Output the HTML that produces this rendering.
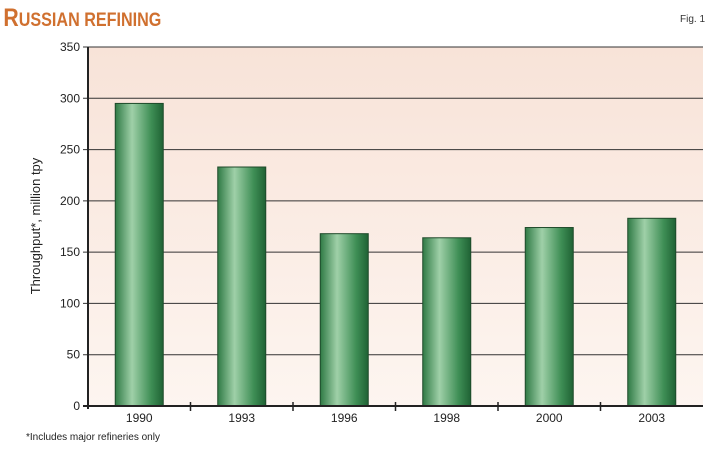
<!DOCTYPE html>
<html><head><meta charset="utf-8"><style>
body{margin:0;background:#fff;width:720px;height:445px;overflow:hidden;font-family:"Liberation Sans",sans-serif}
</style></head><body>
<svg width="720" height="445" xmlns="http://www.w3.org/2000/svg">
<defs>
<linearGradient id="bg" x1="0" y1="0" x2="0" y2="1"><stop offset="0" stop-color="#f8e3d8"/><stop offset="1" stop-color="#fdf5f0"/></linearGradient>
<linearGradient id="bar" x1="0" y1="0" x2="1" y2="0"><stop offset="0" stop-color="#2f7a45"/><stop offset="0.35" stop-color="#9fd0a8"/><stop offset="0.75" stop-color="#3e8e55"/><stop offset="1" stop-color="#1f6234"/></linearGradient>
</defs>
<text x="4" y="26" font-size="25" fill="#d0702f" font-weight="bold" style="font-family:'Liberation Sans Narrow','Liberation Sans',sans-serif" transform="scale(0.85,1)">R<tspan font-size="19">USSIAN REFINING</tspan></text>
<text x="680" y="22" font-size="10" fill="#333">Fig. 1</text>
<rect x="88" y="47" width="615" height="359" fill="url(#bg)"/>
<g id="grid"></g>
<g id="bars"></g>
<g id="axes"></g>
<text transform="translate(40,226) rotate(-90)" text-anchor="middle" font-size="13" fill="#222">Throughput*, million tpy</text>
<text x="26" y="440" font-size="10" fill="#222">*Includes major refineries only</text>
</svg>
<script>
const categories=["1990","1993","1996","1998","2000","2003"];
const values=[295,233,168,164,174,183];
const yTicks=[0,50,100,150,200,250,300,350];
const X0=88,X1=703,Y0=406,Y1=47,YMAX=350;
const ns="http://www.w3.org/2000/svg";
const y=v=>Y0-(v/YMAX)*(Y0-Y1);
const bw=(X1-X0)/categories.length;
const xc=i=>X0+bw*(i+0.5);
function mk(t,a,p){const e=document.createElementNS(ns,t);for(const k in a)e.setAttribute(k,a[k]);p.appendChild(e);return e;}
const grid=document.getElementById('grid'),bars=document.getElementById('bars'),axes=document.getElementById('axes');
yTicks.forEach(v=>{
  const l=mk('line',{x1:X0-5,x2:X1,y1:y(v),y2:y(v),stroke:'#333','stroke-width':v===0?2:1},grid);
  
  
  const t=mk('text',{x:X0-8,y:y(v)+4,'text-anchor':'end','font-size':12,fill:'#222'},axes);
  t.textContent=v;
  
  
});
categories.forEach((c,i)=>{
  const r=mk('rect',{x:xc(i)-24,y:y(values[i]),width:48,height:Y0-y(values[i]),fill:'url(#bar)',stroke:'#1e4a2a','stroke-width':1},bars);
  
  
  const t=mk('text',{x:xc(i),y:Y0+16,'text-anchor':'middle','font-size':12,fill:'#222'},axes);
  t.textContent=c;
  
  
  if(i>0){const tk=mk('line',{x1:X0+bw*i,x2:X0+bw*i,y1:Y0-4,y2:Y0+5,stroke:'#222','stroke-width':1.5},axes);
  
  }
});
const ya=mk('line',{x1:X0,x2:X0,y1:Y1,y2:Y0+3,stroke:'#222','stroke-width':2},axes);


const xa=mk('line',{x1:X0-5,x2:X1,y1:Y0,y2:Y0,stroke:'#222','stroke-width':2},axes);


</script>
</body></html>
